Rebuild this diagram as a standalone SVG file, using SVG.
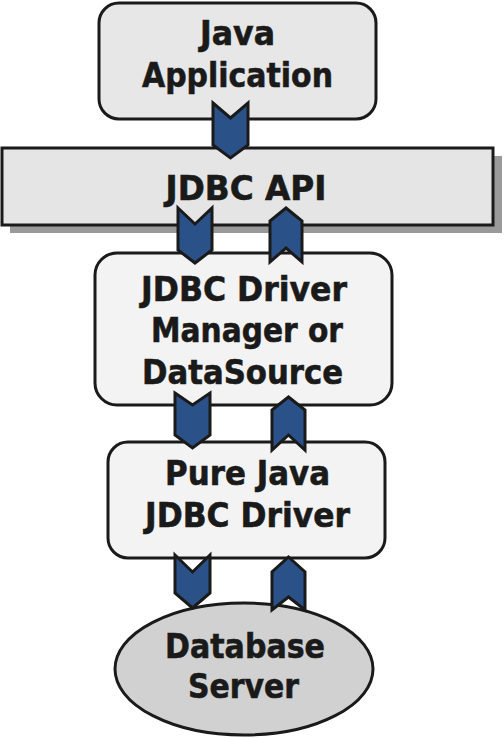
<svg xmlns="http://www.w3.org/2000/svg" width="504" height="738" viewBox="0 0 504 738">
<style>
.box{stroke:#1a1a1a;stroke-width:3}
.t{font-family:"DejaVu Sans",Verdana,sans-serif;font-weight:bold;font-size:33px;fill:#1a1a1a;stroke:#1a1a1a;stroke-width:0.6;text-anchor:middle}
.ch{fill:#2b5189;stroke:#1a1a1a;stroke-width:3;stroke-linejoin:miter}
</style>
<rect width="504" height="738" fill="#ffffff"/>
<g id="java-app">
<rect class="box" x="99" y="3" width="277" height="116" rx="20" fill="#e6e7e6"/>
<text class="t" x="237.5" y="45" textLength="75" lengthAdjust="spacingAndGlyphs">Java</text>
<text class="t" x="237.5" y="87" textLength="191" lengthAdjust="spacingAndGlyphs">Application</text>
</g>
<g id="jdbc-api">
<rect x="10" y="156" width="492" height="77" fill="#9a9a9a"/>
<rect class="box" x="2" y="148" width="491" height="77" fill="#e4e5e4"/>
<text class="t" x="246" y="200" textLength="161" lengthAdjust="spacingAndGlyphs">JDBC API</text>
</g>
<g id="driver-manager">
<rect class="box" x="95" y="253" width="297" height="152" rx="22" fill="#f3f3f3"/>
<text class="t" x="244" y="301" textLength="206" lengthAdjust="spacingAndGlyphs">JDBC Driver</text>
<text class="t" x="247" y="342" textLength="192" lengthAdjust="spacingAndGlyphs">Manager or</text>
<text class="t" x="242.5" y="384" textLength="201" lengthAdjust="spacingAndGlyphs">DataSource</text>
</g>
<g id="pure-java-driver">
<rect class="box" x="108" y="442" width="277" height="116" rx="20" fill="#f3f3f3"/>
<text class="t" x="247.5" y="485" textLength="165" lengthAdjust="spacingAndGlyphs">Pure Java</text>
<text class="t" x="247.5" y="527" textLength="205" lengthAdjust="spacingAndGlyphs">JDBC Driver</text>
</g>
<g id="database-server">
<ellipse class="box" cx="244" cy="669" rx="129" ry="66" fill="#d0d1d0"/>
<text class="t" x="245" y="658" textLength="160" lengthAdjust="spacingAndGlyphs">Database</text>
<text class="t" x="243.5" y="698" textLength="111" lengthAdjust="spacingAndGlyphs">Server</text>
</g>
<g id="connectors">
<polygon class="ch" points="213,103 230.5,118 248,103 248,145 230.5,158 213,145"/>
<polygon class="ch" points="178,208 195,224 212,208 212,250 195,263 178,250"/>
<polygon class="ch" points="286,208 302,221 302,262 286,248 270,262 270,221"/>
<polygon class="ch" points="175,393 192.5,405 210,393 210,435 192.5,448 175,435"/>
<polygon class="ch" points="288.5,397 305,410 305,450 288.5,435 272,450 272,410"/>
<polygon class="ch" points="175,555 192.5,572 210,555 210,593 192.5,608 175,593"/>
<polygon class="ch" points="288.5,557 305,572 305,610 288.5,597 272,610 272,572"/>
</g>
</svg>
